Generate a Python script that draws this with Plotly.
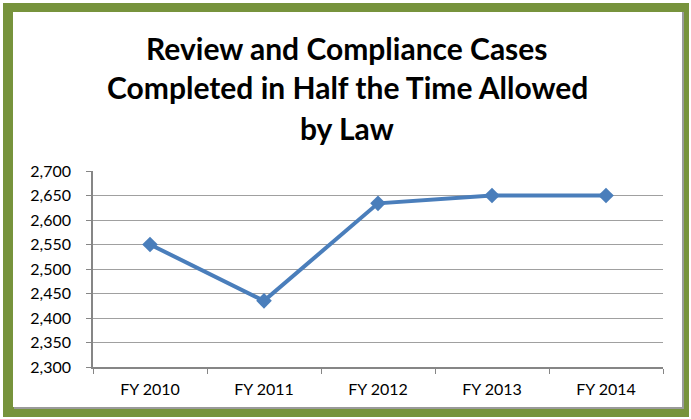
import plotly.graph_objects as go

categories = ["FY 2010", "FY 2011", "FY 2012", "FY 2013", "FY 2014"]
values = [2550, 2435, 2634, 2650, 2650]
title_lines = ["Review and Compliance Cases", "Completed in Half the Time Allowed", "by Law"]

W, H = 691, 419
L, R, T, B = 93, 663, 171, 367


def px(x):
    return (x - L) / (R - L)


def py(y):
    return (B - y) / (B - T)


fig = go.Figure()
fig.add_trace(go.Scatter(
    x=categories, y=values, mode="lines+markers",
    line=dict(color="#4A7EBB", width=4),
    marker=dict(symbol="diamond", size=12, color="#4A7EBB"),
    showlegend=False, hoverinfo="skip",
))

shapes = [
    dict(type="rect", xref="paper", yref="paper", x0=px(3), x1=px(689), y0=py(417), y1=py(3),
         fillcolor="#77933C", line=dict(width=0), layer="below"),
    dict(type="rect", xref="paper", yref="paper", x0=px(14), x1=px(684), y0=py(409), y1=py(12),
         fillcolor="#9A9A9A", line=dict(width=0), layer="below"),
    dict(type="rect", xref="paper", yref="paper", x0=px(13), x1=px(682), y0=py(407), y1=py(12),
         fillcolor="white", line=dict(width=0), layer="below"),
]

annotations = []
for txt, yy in zip(title_lines, [48, 87, 128]):
    annotations.append(dict(
        text="<b>%s</b>" % txt, xref="paper", yref="paper", x=px(347), y=py(yy),
        xanchor="center", yanchor="middle", showarrow=False,
        font=dict(family="Lato", size=30, color="black"),
    ))

fig.update_layout(
    width=W, height=H,
    margin=dict(l=L, r=W - R, t=T, b=H - B, pad=0),
    paper_bgcolor="white", plot_bgcolor="rgba(0,0,0,0)",
    shapes=shapes, annotations=annotations,
    xaxis=dict(
        type="category", range=[-0.5, 4.5], tickson="boundaries",
        ticks="outside", ticklen=5, tickcolor="#868686",
        showline=True, linecolor="#868686", linewidth=1.5,
        showgrid=False, zeroline=False, ticklabelstandoff=7,
        tickfont=dict(family="Lato", size=16, color="black"),
    ),
    yaxis=dict(
        range=[2300, 2700], dtick=50, tickformat=",",
        ticks="outside", ticklen=5, tickcolor="#868686",
        showline=True, linecolor="#868686", linewidth=1.5,
        showgrid=True, gridcolor="#A0A0A0", gridwidth=1,
        zeroline=False, ticklabelstandoff=12,
        tickfont=dict(family="Lato", size=16, color="black"),
    ),
)

fig.write_html("out.html", config={"displayModeBar": False},
               post_script="document.body.style.margin='0';")
